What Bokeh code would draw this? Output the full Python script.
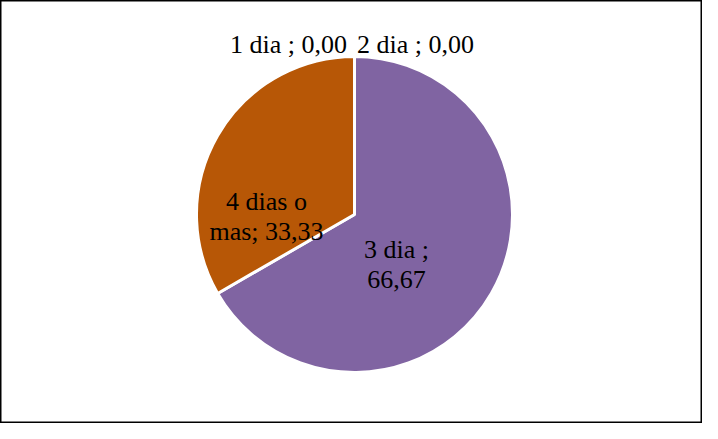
import numpy as np
from bokeh.plotting import figure
from bokeh.models import Range1d, ColumnDataSource
from bokeh.core.properties import value
from bokeh.embed import file_html
from bokeh.resources import INLINE

# ---- data ----
categories = ["1 dia", "2 dia", "3 dia", "4 dias o mas"]
values = [0.00, 0.00, 66.67, 33.33]
colors = ["#4F81BD", "#C0504D", "#8064A2", "#B75706"]

# ---- layout (screen-pixel coordinates of the reference) ----
W, H = 702, 423
cx_s, cy_s, radius = 362, 222, 158

p = figure(width=W, height=H, output_backend="svg", toolbar_location=None,
           x_range=Range1d(8, 8 + W), y_range=Range1d(8, 8 + H),
           min_border=0, background_fill_color="white", border_fill_color="white")
p.axis.visible = False
p.grid.visible = False
p.outline_line_color = "black"
p.outline_line_width = 2

def sy(y):  # screen y -> data y
    return 8 + H - (y - 8)

# wedges, starting at top, clockwise
total = sum(values)
angles = np.cumsum([0] + [v / total * 2 * np.pi for v in values])
start = np.pi / 2 - angles[:-1]
end = np.pi / 2 - angles[1:]
keep = [i for i, v in enumerate(values) if v > 0]
src = ColumnDataSource(dict(
    start=[start[i] for i in keep], end=[end[i] for i in keep],
    color=[colors[i] for i in keep]))
p.wedge(x=cx_s, y=sy(cy_s), radius=radius, start_angle="start", end_angle="end",
        direction="clock", fill_color="color", line_color="white", line_width=3,
        source=src)

def fmt(v):
    return f"{v:.2f}".replace(".", ",")

# label texts built from data
label_lines = [
    [f"{categories[0]} ; {fmt(values[0])}"],
    [f"{categories[1]} ; {fmt(values[1])}"],
    [f"{categories[2]} ;", fmt(values[2])],
    ["4 dias o", f"mas; {fmt(values[3])}"],
]
# label positions (first-line baseline, screen px)
label_x = [296, 423, 404, 274]
label_y = [52, 52, 257, 209]
line_gap = 30

xs, ys, ts = [], [], []
for lines, lx, ly in zip(label_lines, label_x, label_y):
    for k, t in enumerate(lines):
        xs.append(lx)
        ys.append(sy(ly + k * line_gap))
        ts.append(t)
p.text(x=xs, y=ys, text=ts, text_font=value("Liberation Serif"),
       text_font_size="26px", text_align="center", text_baseline="alphabetic",
       text_color="black")

open("out.html", "w").write(file_html(p, INLINE))
